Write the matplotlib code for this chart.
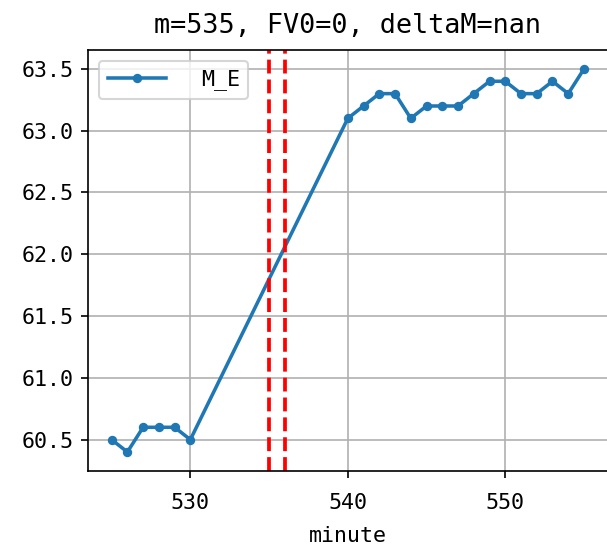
import numpy as np
import matplotlib
matplotlib.use("Agg")
import matplotlib.pyplot as plt
from matplotlib.ticker import MultipleLocator

plt.rcParams['font.family'] = ['DejaVu Sans Mono', 'Noto Sans CJK SC']
plt.rcParams['axes.unicode_minus'] = False

# minute -> M_E
minutes = [525, 526, 527, 528, 529, 530,
           540, 541, 542, 543, 544, 545, 546, 547, 548, 549, 550,
           551, 552, 553, 554, 555]
m_e = [60.5, 60.4, 60.6, 60.6, 60.6, 60.5,
       63.1, 63.2, 63.3, 63.3, 63.1, 63.2, 63.2, 63.2, 63.3, 63.4, 63.4,
       63.3, 63.3, 63.4, 63.3, 63.5]
marks = [535, 536]

fig = plt.figure(figsize=(607 / 150, 553 / 150), dpi=150)
ax = fig.add_axes([0.145, 0.148, 0.856, 0.762])

ax.plot(minutes, m_e, '.-', color='tab:blue', label='M_E', linewidth=1.7, markersize=7)
for m in marks:
    ax.axvline(m, color='r', linestyle='--', linewidth=1.8)

ax.xaxis.set_major_locator(MultipleLocator(10))
ax.grid(True)
ax.set_xlabel('minute', fontsize=10.4, labelpad=6)
ax.set_title('m=535, FV0=0, deltaM=nan', fontsize=12.9, pad=8)
ax.tick_params(labelsize=10.4)
ax.tick_params(axis='x', pad=7)
ax.legend(loc='upper left', fontsize=10.4, handlelength=2.7, handletextpad=1.6)

fig.savefig('out.png', dpi=150)
